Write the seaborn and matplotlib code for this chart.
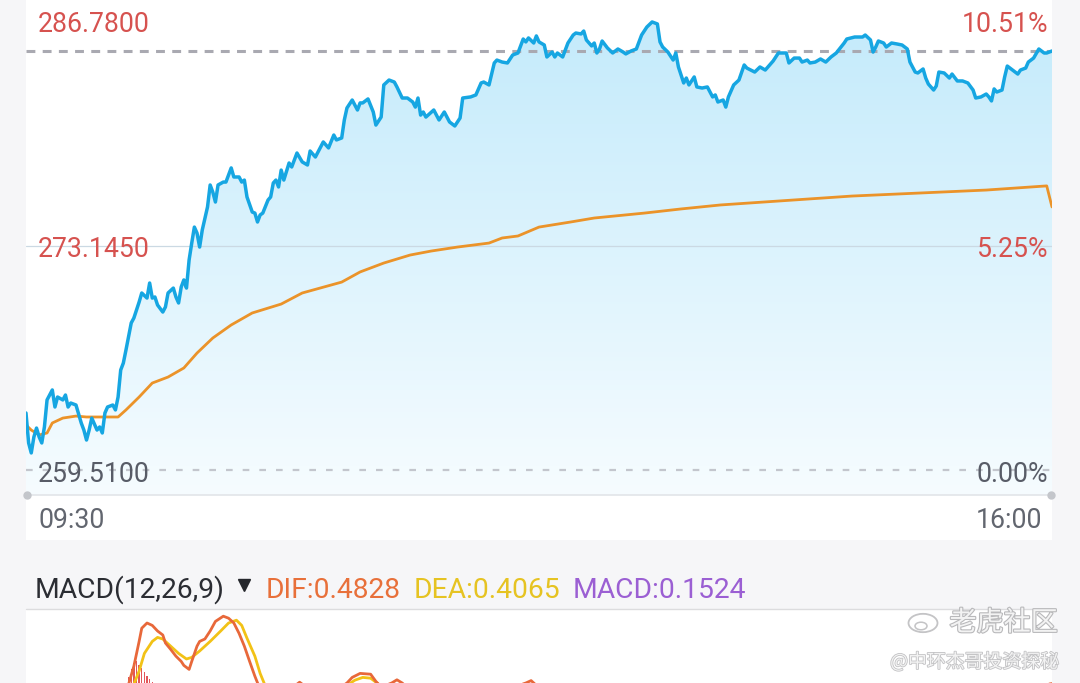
import numpy as np
import matplotlib
matplotlib.use('Agg')
import matplotlib.pyplot as plt
import seaborn as sns
from matplotlib.patches import Rectangle, Circle, PathPatch
from matplotlib.lines import Line2D
import matplotlib.patheffects as pe

# minutes after 09:30 and last price
price_min = [0, 1, 2, 3, 4, 5, 6, 7, 8, 10, 11, 12, 14, 15, 16, 17, 19, 21, 22, 23, 24, 25, 27, 28, 29, 30,
             31, 33, 34, 35, 36, 37, 38, 40, 41, 42, 43, 44, 46, 47, 48, 49, 50, 52, 53, 54, 56, 57, 58, 59,
             60, 61, 62, 63, 64, 65, 66, 67, 69, 70, 71, 72, 73, 75, 76, 77, 78, 79, 81, 82, 83, 84, 86, 87,
             88, 89, 90, 92, 93, 94, 95, 96, 97, 98, 100, 101, 103, 105, 107, 108, 110, 112, 113, 115, 117,
             118, 120, 121, 122, 124, 126, 127, 128, 130, 132, 133, 135, 136, 138, 140, 141, 143, 145, 147,
             148, 149, 150, 151, 152, 155, 157, 159, 161, 163, 165, 166, 169, 171, 173, 174, 176, 178, 179,
             181, 183, 185, 187, 189, 190, 191, 193, 194, 195, 197, 198, 200, 201, 202, 204, 206, 208, 209,
             211, 212, 213, 215, 216, 217, 218, 219, 221, 223, 225, 227, 228, 230, 232, 234, 236, 238, 240,
             241, 242, 244, 246, 247, 248, 250, 251, 252, 254, 255, 257, 259, 261, 262, 263, 265, 266, 267,
             269, 271, 273, 274, 277, 279, 281, 284, 286, 289, 290, 292, 294, 295, 297, 298, 300, 302, 304,
             306, 308, 311, 312, 315, 318, 319, 321, 322, 323, 324, 326, 327, 329, 331, 333, 335, 336, 338,
             339, 341, 342, 343, 345, 346, 347, 349, 351, 352, 354, 356, 358, 360, 361, 363, 365, 366, 367,
             368, 369, 371, 372, 373, 375, 377, 378, 380, 381, 383, 385, 387, 388, 390]
price_val = [263.22, 261.27, 260.62, 261.66, 262.24, 261.66, 261.27, 262.31, 264.07, 264.72, 263.61, 264.26,
             264.07, 264.39, 263.61, 263.87, 263.74, 262.57, 262.11, 261.46, 262.11, 262.89, 262.11, 262.31,
             261.92, 263.22, 263.61, 263.74, 263.42, 264.26, 266.02, 266.47, 267.32, 269.08, 269.40, 269.92,
             270.44, 271.03, 270.70, 271.68, 270.70, 270.77, 270.25, 269.79, 270.12, 271.03, 271.35, 270.77,
             270.38, 271.42, 271.88, 271.35, 273.18, 274.28, 275.32, 274.93, 274.02, 275.13, 276.63, 278.06,
             277.60, 276.95, 278.06, 278.25, 278.25, 278.71, 279.17, 278.58, 278.58, 278.25, 278.38, 277.28,
             276.30, 276.23, 275.65, 276.11, 276.23, 277.08, 277.28, 278.19, 278.38, 277.93, 279.03, 278.38,
             279.49, 279.23, 280.14, 279.56, 279.36, 280.27, 279.88, 280.53, 280.86, 280.47, 281.31, 280.99,
             281.12, 282.29, 283.07, 283.59, 282.94, 283.40, 283.40, 283.66, 282.81, 281.96, 282.48, 284.57,
             284.89, 284.76, 284.44, 283.72, 283.72, 283.46, 283.13, 283.72, 282.61, 282.81, 282.48, 282.94,
             282.29, 282.81, 282.16, 281.90, 282.42, 283.72, 283.79, 283.92, 284.70, 284.76, 284.57, 286.00,
             286.19, 286.06, 286.00, 286.52, 286.65, 287.56, 287.37, 287.63, 287.30, 287.76, 287.37, 287.17,
             286.39, 286.71, 286.39, 286.65, 286.39, 287.30, 287.82, 287.95, 287.89, 288.08, 287.50, 287.11,
             287.30, 286.65, 286.91, 287.43, 286.98, 286.65, 286.91, 286.71, 286.59, 286.78, 286.91, 287.82,
             288.34, 288.67, 288.54, 287.37, 287.04, 286.71, 286.19, 286.65, 285.74, 284.70, 285.02, 284.57,
             285.09, 284.44, 284.37, 284.44, 283.79, 283.92, 283.46, 283.59, 283.13, 283.79, 284.57, 284.89,
             285.87, 285.67, 285.41, 285.74, 285.54, 286.13, 286.65, 286.65, 286.00, 286.32, 286.32, 286.06,
             286.19, 286.00, 286.06, 286.26, 286.06, 286.39, 286.65, 287.30, 287.56, 287.69, 287.69, 287.82,
             287.50, 286.71, 287.04, 287.43, 287.30, 287.04, 287.30, 287.24, 287.17, 286.91, 286.06, 285.41,
             285.35, 285.61, 285.02, 284.63, 284.24, 284.50, 285.41, 285.35, 285.02, 285.28, 284.83, 284.83,
             284.70, 284.24, 283.72, 283.79, 283.98, 283.79, 283.53, 284.31, 284.11, 284.24, 285.09, 285.80,
             285.54, 285.28, 285.54, 285.67, 286.06, 286.32, 286.91, 286.65, 286.65, 286.78]

# average price line
avg_min = [0, 2, 5, 8, 10, 14, 19, 23, 28, 35, 38, 43, 48, 54, 60, 65, 71, 78, 86, 97, 105, 120, 127, 136,
           146, 154, 164, 176, 181, 187, 195, 207, 216, 235, 249, 264, 314, 365, 388, 390]
avg_val = [262.44, 262.11, 261.79, 261.92, 262.57, 262.89, 263.02, 262.96, 262.96, 262.96, 263.42, 264.26,
           265.17, 265.56, 266.15, 267.12, 268.10, 268.95, 269.73, 270.31, 271.03, 271.74, 272.40, 272.98,
           273.50, 273.76, 274.02, 274.28, 274.61, 274.74, 275.32, 275.65, 275.91, 276.23, 276.50, 276.76,
           277.34, 277.73, 278.00, 276.63]

# MACD panel
dif_min = [0, 20, 35, 39, 41, 43, 44, 46, 48, 50, 52, 53, 55, 57, 59, 60, 62, 63, 65, 66, 68, 70, 72, 75, 77,
           79, 81, 83, 85, 87, 89, 95, 100, 104, 108, 118, 122, 124, 127, 131, 133, 135, 139, 141, 143, 146,
           160, 180, 190, 192, 194, 200, 220, 250, 280, 320, 350, 370, 390]
dif_val = [0.0, 0.10, 0.30, 0.475, 0.70, 1.01, 1.175, 1.24, 1.21, 1.14, 1.09, 0.99, 0.91, 0.825, 0.76, 0.71,
           0.66, 0.76, 0.95, 1.01, 1.04, 1.14, 1.26, 1.325, 1.30, 1.24, 1.11, 0.95, 0.76, 0.575, 0.41, 0.30,
           0.40, 0.50, 0.40, 0.40, 0.49, 0.56, 0.61, 0.60, 0.51, 0.44, 0.49, 0.53, 0.49, 0.40, 0.30, 0.38,
           0.49, 0.52, 0.46, 0.40, 0.30, 0.25, 0.30, 0.35, 0.30, 0.38, 0.4828]
dea_min = [0, 20, 35, 41, 43, 45, 48, 50, 52, 55, 58, 61, 63, 66, 70, 74, 77, 80, 82, 84, 87, 89, 91, 95, 105,
           115, 122, 125, 128, 131, 134, 138, 142, 150, 170, 190, 200, 230, 260, 300, 340, 370, 390]
dea_val = [0.0, 0.05, 0.20, 0.475, 0.64, 0.86, 1.01, 1.06, 1.04, 0.95, 0.86, 0.79, 0.81, 0.89, 1.01, 1.14,
           1.24, 1.275, 1.21, 1.05, 0.825, 0.61, 0.45, 0.38, 0.38, 0.40, 0.46, 0.525, 0.56, 0.55, 0.475, 0.46,
           0.46, 0.42, 0.36, 0.42, 0.40, 0.32, 0.28, 0.31, 0.33, 0.36, 0.4065]
bar_min = [38, 39, 40, 41, 42, 43, 44, 45, 46, 47, 48]
bar_val = [0.48, 0.56, 0.66, 0.74, 0.76, 0.72, 0.68, 0.63, 0.58, 0.54, 0.50]
macd_last = 0.1524

price_top, price_mid, price_low = 286.78, 273.145, 259.51
pct_top, pct_mid, pct_low = '10.51%', '5.25%', '0.00%'

W, H = 1080, 683
sns.set_theme(style='white')
plt.rcParams['font.family'] = ['Roboto', 'Noto Sans CJK SC', 'DejaVu Sans']


def fx(x):
    return x / W


def fy(y):
    return 1 - y / H


fig = plt.figure(figsize=(W / 100, H / 100), dpi=100)
fig.patch.set_facecolor('#f6f6f8')
fig.add_artist(Rectangle((fx(26), fy(540)), (1052 - 26) / W, 540 / H, transform=fig.transFigure,
                         facecolor='white', edgecolor='none', zorder=0))
fig.add_artist(Rectangle((fx(26), 0), (1052 - 26) / W, (683 - 609) / H, transform=fig.transFigure,
                         facecolor='white', edgecolor='none', zorder=0))

# price panel
ax = fig.add_axes([fx(26), fy(495), 1026 / W, 495 / H])
ax.set_facecolor('none')
ylo, yhi = 257.883, 290.099
ax.set_xlim(0, 390)
ax.set_ylim(ylo, yhi)
ax.axis('off')

top_c = np.array([194, 234, 251]) / 255
bot_c = np.array([246, 252, 255]) / 255
t = np.linspace(0, 1, 256)[:, None, None]
grad = top_c[None, None, :] * (1 - t) + bot_c[None, None, :] * t
im = ax.imshow(grad, extent=[0, 390, ylo, yhi], aspect='auto', origin='upper', zorder=1)
poly = ax.fill_between(price_min, price_val, ylo, facecolor='none', edgecolor='none')
clip = PathPatch(poly.get_paths()[0], transform=ax.transData, facecolor='none', edgecolor='none')
ax.add_patch(clip)
im.set_clip_path(clip)

ax.axhline(price_top, color='#a9a9b1', lw=2.2, ls=(0, (2.9, 2.4)), zorder=2)
ax.axhline(price_low, color='#c3c6cd', lw=1.6, ls=(0, (3.0, 4.5)), zorder=2)
ax.plot([0, 1], [0.5036, 0.5036], transform=ax.transAxes, color='#cbd9e3', lw=0.9, zorder=2)

sns.lineplot(x=avg_min, y=avg_val, ax=ax, color='#eb9329', linewidth=2.0, estimator=None, zorder=3)
sns.lineplot(x=price_min, y=price_val, ax=ax, color='#16a6e2', linewidth=2.5, estimator=None, zorder=4)

# bottom frame line with end dots
fig.add_artist(Line2D([fx(26), fx(1052)], [fy(495), fy(495)], color='#e2e5e9', lw=1.2,
                      transform=fig.transFigure))
fig.add_artist(Line2D([fx(27), fx(1051)], [fy(495), fy(495)], ls='none', marker='o', ms=5,
                      color='#c4c6cb', transform=fig.transFigure))

red = '#d6524f'
grey = '#585c67'
fs = 19.2
fig.text(fx(38), fy(32), '%.4f' % price_top, color=red, fontsize=fs, va='baseline', ha='left')
fig.text(fx(38), fy(257), '%.4f' % price_mid, color=red, fontsize=fs, va='baseline', ha='left')
fig.text(fx(38), fy(482), '%.4f' % price_low, color=grey, fontsize=fs, va='baseline', ha='left')
fig.text(fx(1048), fy(32), pct_top, color=red, fontsize=fs, va='baseline', ha='right')
fig.text(fx(1048), fy(257), pct_mid, color=red, fontsize=fs, va='baseline', ha='right')
fig.text(fx(1048), fy(482), pct_low, color=grey, fontsize=fs, va='baseline', ha='right')
fig.text(fx(38), fy(528), '09:30', color='#62666f', fontsize=fs, va='baseline', ha='left')
fig.text(fx(1042), fy(528), '16:00', color='#62666f', fontsize=fs, va='baseline', ha='right')

# MACD header
hs = 20.3
fig.text(fx(35), fy(598), 'MACD(12,26,9)', color='#2b2d33', fontsize=hs, va='baseline')
fig.add_artist(Line2D([fx(244)], [fy(585)], ls='none', marker='v', ms=9, color='#25272c',
                      transform=fig.transFigure))
fig.text(fx(266), fy(598), 'DIF:%.4f' % dif_val[-1], color='#e8703a', fontsize=hs, va='baseline')
fig.text(fx(414), fy(598), 'DEA:%.4f' % dea_val[-1], color='#e6c322', fontsize=hs, va='baseline')
fig.text(fx(573), fy(598), 'MACD:%.4f' % macd_last, color='#9b5fd3', fontsize=hs, va='baseline')
fig.add_artist(Line2D([fx(26), fx(1052)], [fy(609), fy(609)], color='#dcdcde', lw=1.0,
                      transform=fig.transFigure))

# MACD panel (only the top part is visible)
ax2 = fig.add_axes([fx(26), 0, 1026 / W, (683 - 610) / H])
ax2.set_facecolor('none')
ax2.set_xlim(0, 390)
ax2.set_ylim(0.49, 1.4025)
ax2.axis('off')
ax2.bar(bar_min, bar_val, width=0.55, color='#e25559', edgecolor='none', linewidth=0, zorder=1)
sns.lineplot(x=dea_min, y=dea_val, ax=ax2, color='#f2c216', linewidth=2.0, estimator=None, zorder=2)
sns.lineplot(x=dif_min, y=dif_val, ax=ax2, color='#e8683a', linewidth=2.0, estimator=None, zorder=3)

# watermark
wm = [pe.withStroke(linewidth=1.6, foreground='#b9b9bb')]
fig.add_artist(Circle((fx(923), fy(623)), 14.5 / W, transform=fig.transFigure, facecolor='none',
                      edgecolor='#c4c4c6', lw=1.3, zorder=5))
fig.add_artist(Circle((fx(921), fy(626)), 6 / W, transform=fig.transFigure, facecolor='none',
                      edgecolor='#c4c4c6', lw=1.1, zorder=5))
fig.text(fx(1058), fy(623), '老虎社区', color='#f3f3f3', fontsize=19.5, ha='right', va='center',
         family=['Noto Sans CJK SC', 'DejaVu Sans'], path_effects=wm, zorder=6)
fig.text(fx(1059), fy(662), '@中环杰哥投资探秘', color='#f3f3f3', fontsize=13.6, ha='right', va='center',
         family=['Noto Sans CJK SC', 'DejaVu Sans'],
         path_effects=[pe.withStroke(linewidth=1.2, foreground='#c2c2c4')], zorder=6)

fig.savefig('out.png', dpi=100, facecolor=fig.get_facecolor())
